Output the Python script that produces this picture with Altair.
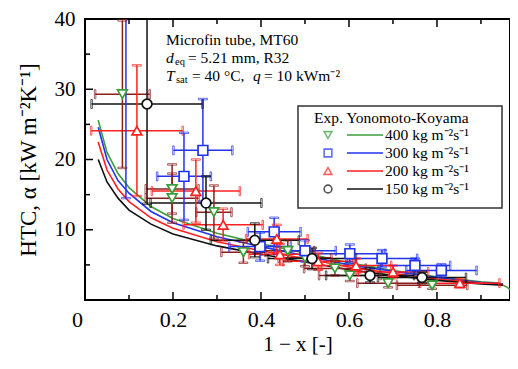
import altair as alt
import pandas as pd

# ---------------- data ----------------
series = ["400", "300", "200", "150"]

# experimental points: x (1-x), y (HTC), x half-error, y half-error
g400_x = [0.085, 0.198, 0.198, 0.293, 0.36, 0.461, 0.50, 0.568, 0.602, 0.689, 0.789]
g400_y = [29.3, 15.8, 14.5, 12.5, 6.8, 7.0, 6.0, 4.5, 3.5, 2.4, 2.1]
g400_ex = [0.062, 0.06, 0.06, 0.04, 0.05, 0.06, 0.06, 0.07, 0.07, 0.07, 0.08]
g400_ey = [10.5, 3.5, 3.5, 3.8, 1.5, 1.5, 1.2, 1.0, 0.8, 0.6, 0.5]

g300_x = [0.093, 0.225, 0.268, 0.398, 0.43, 0.50, 0.602, 0.675, 0.75, 0.81]
g300_y = [44.0, 17.6, 21.3, 7.6, 9.7, 7.0, 6.6, 5.9, 4.9, 4.2]
g300_ex = [0.05, 0.061, 0.067, 0.07, 0.06, 0.07, 0.08, 0.08, 0.08, 0.08]
g300_ey = [29.5, 6.2, 7.3, 2.0, 2.0, 1.5, 1.3, 1.2, 1.0, 0.9]

g200_x = [0.118, 0.252, 0.314, 0.436, 0.443, 0.53, 0.616, 0.70, 0.852]
g200_y = [24.1, 15.5, 10.7, 8.7, 6.5, 5.5, 4.9, 4.0, 2.4]
g200_ex = [0.104, 0.10, 0.09, 0.07, 0.07, 0.08, 0.08, 0.08, 0.09]
g200_ey = [9.3, 4.5, 2.3, 2.0, 1.5, 1.2, 1.0, 0.9, 0.6]

g150_x = [0.141, 0.275, 0.386, 0.516, 0.648, 0.766]
g150_y = [27.9, 13.8, 8.5, 5.9, 3.5, 3.2]
g150_ex = [0.126, 0.126, 0.10, 0.10, 0.10, 0.10]
g150_ey = [14.2, 3.8, 2.4, 1.5, 1.0, 0.8]

# Yonomoto-Koyama model curves
m400_x = [0.03, 0.05, 0.075, 0.1, 0.15, 0.2, 0.3, 0.4, 0.5, 0.6, 0.7, 0.8, 0.9, 0.94, 0.96, 0.98]
m400_y = [25.6, 21.0, 18.0, 16.0, 13.3, 11.6, 9.5, 8.0, 6.7, 5.3, 4.2, 3.3, 2.6, 2.4, 1.8, 0.7]
mod_x = [0.03, 0.05, 0.075, 0.1, 0.15, 0.2, 0.3, 0.4, 0.5, 0.6, 0.7, 0.8, 0.9, 0.95]
m300_y = [24.6, 20.0, 17.0, 15.2, 12.6, 11.0, 9.0, 7.6, 6.3, 5.0, 4.1, 3.2, 2.5, 2.3]
m200_y = [22.5, 18.5, 15.8, 14.0, 11.7, 10.2, 8.3, 7.0, 5.9, 4.7, 3.8, 3.0, 2.4, 2.2]
m150_y = [20.0, 16.8, 14.5, 12.8, 10.8, 9.4, 7.7, 6.5, 5.4, 4.3, 3.5, 2.8, 2.3, 2.1]

legend_labels = ["400 kg m⁻²s⁻¹", "300 kg m⁻²s⁻¹", "200 kg m⁻²s⁻¹", "150 kg m⁻²s⁻¹"]
x_ticks_major = [0.2, 0.4, 0.6, 0.8]
x_ticks_minor = [0.1, 0.3, 0.5, 0.7, 0.9]
y_ticks_major = [10, 20, 30]
y_ticks_minor = [5, 15, 25, 35]

# ---------------- styling ----------------
FONT = "Liberation Serif"
line_col = {"400": "#3a9e3a", "300": "#2233ee", "200": "#ff2020", "150": "#111111"}
err_col = {"400": "#8b1e1e", "300": "#2233ee", "200": "#ff2020", "150": "#111111"}
shape_map = {"400": "triangle-down", "300": "square", "200": "triangle-up", "150": "circle"}

W, H = 425, 281

rows = []
for s, xs, ys, exs, eys in [
    ("400", g400_x, g400_y, g400_ex, g400_ey),
    ("300", g300_x, g300_y, g300_ex, g300_ey),
    ("200", g200_x, g200_y, g200_ex, g200_ey),
    ("150", g150_x, g150_y, g150_ex, g150_ey),
]:
    for x, y, ex, ey in zip(xs, ys, exs, eys):
        rows.append(dict(series=s, x=x, y=y, xlo=x - ex, xhi=x + ex, ylo=y - ey, yhi=y + ey))
pts = pd.DataFrame(rows)

mrows = []
for s, xs, ys in [("400", m400_x, m400_y), ("300", mod_x, m300_y),
                  ("200", mod_x, m200_y), ("150", mod_x, m150_y)]:
    for i, (x, y) in enumerate(zip(xs, ys)):
        mrows.append(dict(series=s, x=x, y=y, order=i))
mod = pd.DataFrame(mrows)

xs_ = alt.Scale(domain=[0, 0.966], nice=False, zero=False)
ys_ = alt.Scale(domain=[0, 40], nice=False)

AX = alt.Axis(
    values=[0, 0.2, 0.4, 0.6, 0.8], labelExpr="datum.value == 0 ? '0' : format(datum.value, '.1f')",
    labelOffset={"condition": {"test": "datum.value == 0", "value": -8}, "value": 0},
    ticks=False, domain=False, grid=False, title="1 − x [-]", labelFont=FONT, titleFont=FONT,
    labelFontSize=22, titleFontSize=21, titleFontWeight="normal", labelColor="black", titleColor="black",
    labelPadding=9, titlePadding=3, labelFlush=False)
AY = alt.Axis(
    values=[10, 20, 30, 40], ticks=False, domain=False, grid=False,
    title="HTC, α [kW m⁻²K⁻¹]", labelFont=FONT, titleFont=FONT, labelFontSize=21,
    titleFontSize=23, titleFontWeight="normal", labelColor="black", titleColor="black",
    labelPadding=10, titlePadding=14, labelFlush=False)

X = lambda f: alt.X(f, type="quantitative", scale=xs_, axis=AX)
Y = lambda f: alt.Y(f, type="quantitative", scale=ys_, axis=AY)

line_color = alt.Color("series:N", scale=alt.Scale(domain=series, range=[line_col[s] for s in series]), legend=None)
err_stroke = alt.Stroke("series:N", scale=alt.Scale(domain=series, range=[err_col[s] for s in series]), legend=None)

base_pts = alt.Chart(pts)

lines = alt.Chart(mod).mark_line(strokeWidth=1.6, clip=True).encode(
    x=X("x"), y=Y("y"), color=line_color, order="order:Q", detail="series:N")

xerr = base_pts.mark_rule(strokeWidth=1.5, clip=True).encode(x=X("xlo"), x2="xhi", y=Y("y"), stroke=err_stroke)
yerr = base_pts.mark_rule(strokeWidth=1.5, clip=True).encode(x=X("x"), y=Y("ylo"), y2="yhi", stroke=err_stroke)
cap_xlo = base_pts.mark_tick(orient="vertical", size=9, thickness=1.5, clip=True, filled=False).encode(x=X("xlo"), y=Y("y"), stroke=err_stroke)
cap_xhi = base_pts.mark_tick(orient="vertical", size=9, thickness=1.5, clip=True, filled=False).encode(x=X("xhi"), y=Y("y"), stroke=err_stroke)
cap_ylo = base_pts.mark_tick(orient="horizontal", size=9, thickness=1.5, clip=True, filled=False).encode(x=X("x"), y=Y("ylo"), stroke=err_stroke)
cap_yhi = base_pts.mark_tick(orient="horizontal", size=9, thickness=1.5, clip=True, filled=False).encode(x=X("x"), y=Y("yhi"), stroke=err_stroke)

points = base_pts.mark_point(filled=True, fill="white", strokeWidth=1.7, size=95, clip=True, opacity=1).encode(
    x=X("x"), y=Y("y"),
    stroke=alt.Stroke("series:N", scale=alt.Scale(domain=series, range=[line_col[s] for s in series]), legend=None),
    shape=alt.Shape("series:N", scale=alt.Scale(domain=series, range=[shape_map[s] for s in series]), legend=None),
)

# inward ticks
tick_layers = []
for vals, lenv in [(x_ticks_major, 8), (x_ticks_minor, 5)]:
    df = pd.DataFrame({"v": vals})
    tick_layers.append(alt.Chart(df).mark_rule(color="black", strokeWidth=1.5).encode(
        x=X("v"), y=alt.value(H), y2=alt.value(H - lenv)))
    tick_layers.append(alt.Chart(df).mark_rule(color="black", strokeWidth=1.5).encode(
        x=X("v"), y=alt.value(0), y2=alt.value(lenv)))
for vals, lenv in [(y_ticks_major, 8), (y_ticks_minor, 5)]:
    df = pd.DataFrame({"v": vals})
    tick_layers.append(alt.Chart(df).mark_rule(color="black", strokeWidth=1.5).encode(
        y=Y("v"), x=alt.value(0), x2=alt.value(lenv)))

one = pd.DataFrame({"a": [0]})


def txt(t, x, y, size=15.5, italic=False, align="left"):
    return alt.Chart(one).mark_text(text=t, font=FONT, fontSize=size, align=align, baseline="middle",
                                    color="black", fontStyle="italic" if italic else "normal").encode(
        x=alt.value(x), y=alt.value(y))


annot = [
    txt("Microfin tube, MT60", 81, 21),
    txt("d", 81, 39, italic=True),
    txt("eq", 90, 43, size=10.5),
    txt("= 5.21 mm, R32", 103, 39),
    txt("T", 81, 57, italic=True),
    txt("sat", 91, 61, size=10.5),
    txt("= 40 °C,", 107, 57),
    txt("q", 168, 57, italic=True),
    txt("= 10 kWm⁻²", 179, 57),
]

legend = [alt.Chart(one).mark_rect(fill="white", stroke="#333333", strokeWidth=1.5).encode(
    x=alt.value(213), x2=alt.value(417), y=alt.value(87), y2=alt.value(189)),
    txt("Exp. Yonomoto-Koyama", 229, 99, size=15.5)]
row_y = [116, 134, 152, 170]
for s, lab, ry in zip(series, legend_labels, row_y):
    legend.append(alt.Chart(one).mark_point(filled=True, fill="white", stroke=line_col[s], strokeWidth=1.6,
                                            size=60, shape=shape_map[s]).encode(x=alt.value(243), y=alt.value(ry)))
    legend.append(alt.Chart(one).mark_rule(color=line_col[s], strokeWidth=1.5).encode(
        x=alt.value(262), x2=alt.value(298), y=alt.value(ry)))
    legend.append(txt(lab, 300, ry, size=15.5))

chart = alt.layer(
    lines, xerr, yerr, cap_xlo, cap_xhi, cap_ylo, cap_yhi, points,
    *tick_layers, *annot, *legend
).resolve_scale(stroke="independent").properties(
    width=W, height=H,
    autosize=alt.AutoSizeParams(type="none"),
    padding={"left": 77, "top": 11, "right": 0, "bottom": 57},
).configure(background="white").configure_view(stroke="black", strokeWidth=2)

chart.save("out.html", embed_options={"renderer": "svg", "actions": False})
